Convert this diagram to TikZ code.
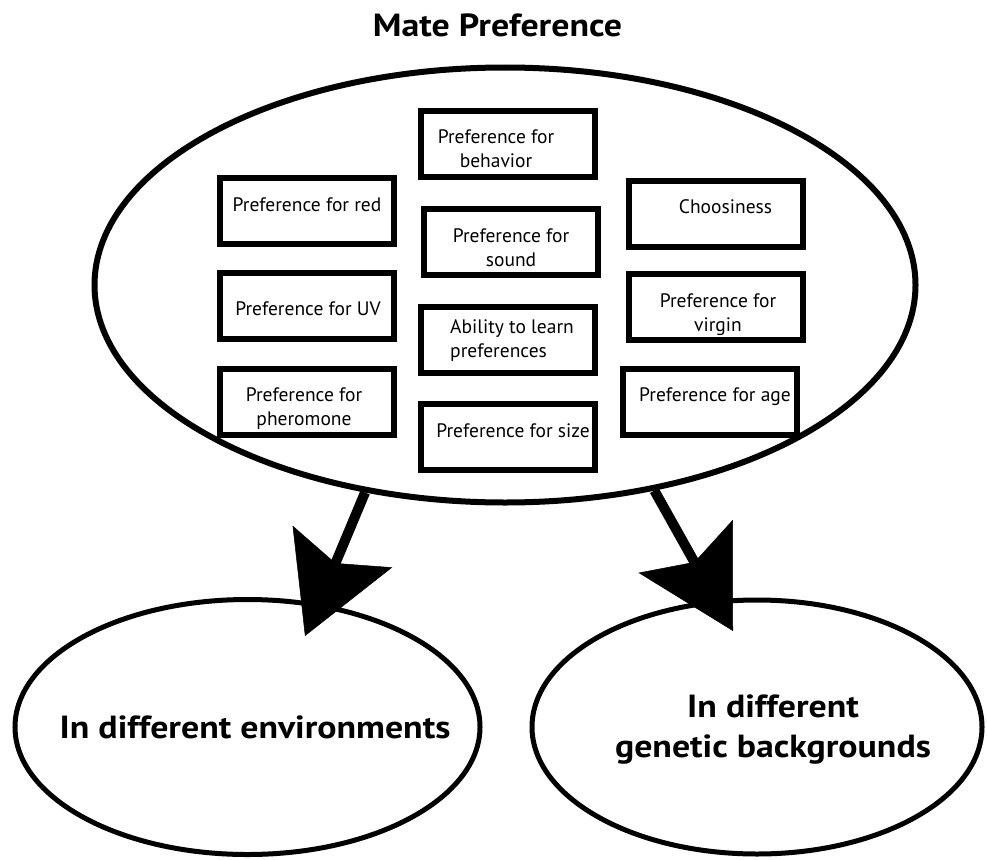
\documentclass[tikz,border=0pt]{standalone}
\usepackage{fontspec}
\setmainfont{PT Sans}
\newfontfamily\widesans[FakeStretch=1.12]{PT Sans}
\usetikzlibrary{shapes.geometric,arrows.meta}
\tikzset{
  oval/.style={draw, ellipse, line width=6pt, inner sep=0pt},
  smalloval/.style={draw, ellipse, line width=5pt, inner sep=0pt},
  prefbox/.style={draw, rectangle, line width=6pt, minimum width=174pt, minimum height=66pt, inner sep=0pt},
  lbl/.style={inner sep=0pt, font=\fontsize{19.5}{24}\selectfont},
  biglbl/.style={inner sep=0pt, font=\widesans\bfseries\fontsize{32}{40}\selectfont},
  titlelbl/.style={inner sep=0pt, font=\widesans\bfseries\fontsize{32}{36}\selectfont},
  fatarrow/.style={line width=10pt, -{Stealth[length=97pt,width=108pt,inset=18pt,line width=0.5pt]}}
}
\begin{document}
\begin{tikzpicture}[x=1pt,y=-1pt]
\useasboundingbox (0,0) rectangle (987,859);
\fill[white] (0,0) rectangle (987,859);

\node[titlelbl, anchor=base] (title) at (497.5,37) {Mate Preference};

\node[oval, minimum width=821pt, minimum height=435pt] (big) at (505,285) {};
\node[smalloval, minimum width=465pt, minimum height=255pt] (envs) at (247.5,727) {};
\node[smalloval, minimum width=450pt, minimum height=254pt] (gens) at (757,727) {};

% boxes
\node[prefbox] (bbehav) at (508,144) {};
\node[prefbox] (bred) at (307,211) {};
\node[prefbox] (bsound) at (511,242) {};
\node[prefbox] (buv) at (307,306) {};
\node[prefbox] (bable) at (508,339.5) {};
\node[prefbox] (bpher) at (307,401.5) {};
\node[prefbox] (bsize) at (508,436.5) {};
\node[prefbox] (bchoo) at (716,213.5) {};
\node[prefbox] (bvirg) at (715.5,307) {};
\node[prefbox] (bage) at (709.5,401.5) {};

% box texts
\node[lbl, align=center] (tbehav) at (496,149) {Preference for\\behavior};
\node[lbl, anchor=base] (tred) at (307,211) {Preference for red};
\node[lbl, align=center] (tsound) at (511,247.5) {Preference for\\sound};
\node[lbl, anchor=base] (tuv) at (308,315) {Preference for UV};
\node[lbl, align=left, anchor=west] (table) at (450,341) {Ability to learn\\preferences};
\node[lbl, align=center] (tpher) at (304,409) {Preference for\\pheromone};
\node[lbl, anchor=base] (tsize) at (513,437) {Preference for size};
\node[lbl, anchor=base] (tchoo) at (725.5,213) {Choosiness};
\node[lbl, align=center] (tvirg) at (718,315) {Preference for\\virgin};
\node[lbl, anchor=base] (tage) at (715,401) {Preference for age};

% bottom texts
\node[biglbl, anchor=base] (tenvs) at (255,738) {In different environments};
\node[biglbl, align=center] (tgens) at (773,730) {In different\\genetic backgrounds};

% arrows
\coordinate (tip1) at (305,636);
\coordinate (tip2) at (733,631);
\draw[fatarrow] (big.236) -- (tip1);
\draw[fatarrow] (big.306) -- (tip2);
\end{tikzpicture}
\end{document}
